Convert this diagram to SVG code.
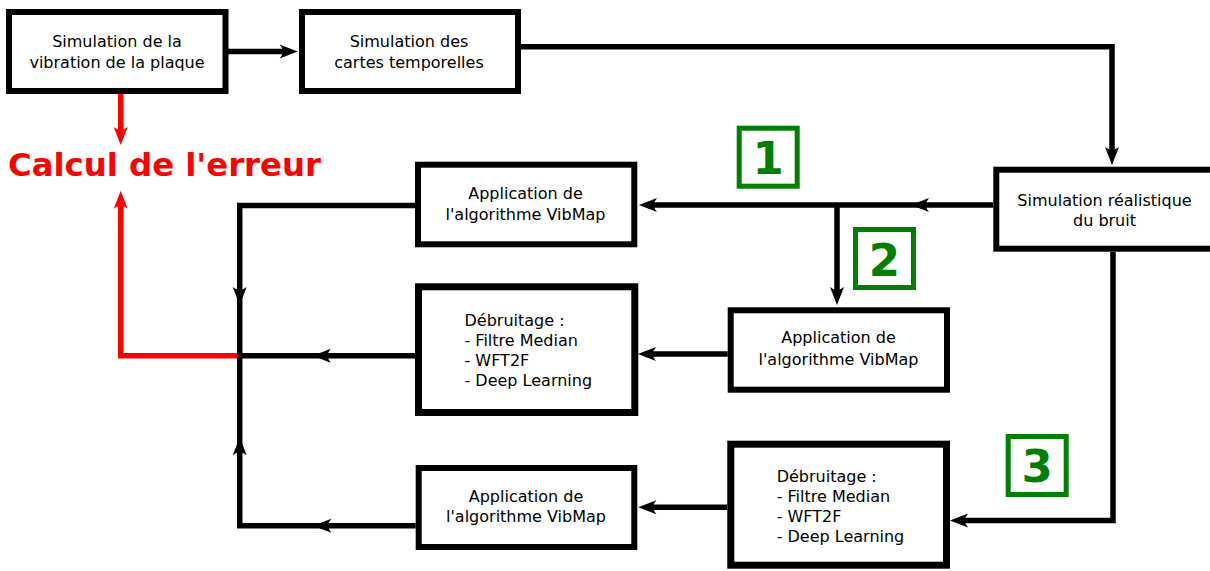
<svg xmlns="http://www.w3.org/2000/svg" width="1210" height="571" viewBox="0 0 1210 571">
<style>
.box{fill:#fff;stroke:#000;stroke-width:6}
.thick{stroke-width:7}
.t{font-family:"DejaVu Sans",Verdana,sans-serif;font-size:16px;fill:#000}
.c{text-anchor:middle}
.g{fill:none;stroke:#008000;stroke-width:5}
.gt{font-family:"DejaVu Sans",sans-serif;font-weight:bold;font-size:45px;fill:#008000;text-anchor:middle}
.ln{fill:none;stroke:#000;stroke-width:5.5;stroke-linejoin:miter}
.ar{marker-end:url(#ah)}
.red{fill:none;stroke:#f00;stroke-width:5.5;stroke-linejoin:miter;marker-end:url(#ahr)}
</style>
<defs>
<marker id="ah" markerUnits="userSpaceOnUse" orient="auto" overflow="visible" refX="0" refY="0" markerWidth="1" markerHeight="1">
<path d="M8,0 L-10,-7 Q-4,0 -10,7 Z" fill="#000"/>
</marker>
<marker id="ahr" markerUnits="userSpaceOnUse" orient="auto" overflow="visible" refX="0" refY="0" markerWidth="1" markerHeight="1">
<path d="M8,0 L-10,-7 Q-4,0 -10,7 Z" fill="#f00"/>
</marker>
</defs>
<rect width="1210" height="571" fill="#fff"/>
<g id="connectors">
<path class="ln ar" d="M228,51.5 H289.7"/>
<path class="ln ar" d="M518,46.7 H1112 V157"/>
<path class="ln ar" d="M993,205 H919"/>
<path class="ln ar" d="M919,205 H647"/>
<path class="ln ar" d="M837,205 V297"/>
<path class="ln ar" d="M727.7,354 H646"/>
<path class="ln ar" d="M415,355.7 H320.7"/>
<path class="ln" d="M320.7,355.7 H239.7"/>
<path class="ln ar" d="M415,205.5 H239.7 V297"/>
<path class="ln" d="M239.7,297 V355.7"/>
<path class="ln ar" d="M415.7,525.8 H321.3"/>
<path class="ln ar" d="M321.3,525.8 H239.7 V445.3"/>
<path class="ln" d="M239.7,445.3 V355.7"/>
<path class="ln ar" d="M727.3,507.3 H646.3"/>
<path class="ln ar" d="M1113,251.7 V520.5 H958"/>
<path class="red" d="M120.7,94 V137"/>
<path class="red" d="M237,355.7 H120.7 V198.7"/>
</g>
<g id="n-vibration">
<rect class="box" x="9" y="12" width="216.5" height="79"/>
<text class="t c" x="117" y="47">Simulation de la</text>
<text class="t c" x="117" y="68">vibration de la plaque</text>
</g>
<g id="n-cartes">
<rect class="box" x="302" y="12" width="216" height="79"/>
<text class="t c" x="409" y="47">Simulation des</text>
<text class="t c" x="409" y="68">cartes temporelles</text>
</g>
<g id="n-bruit">
<rect class="box" x="996.3" y="169.7" width="217" height="79"/>
<text class="t c" x="1104.5" y="205.5">Simulation réalistique</text>
<text class="t c" x="1104.5" y="225.5">du bruit</text>
</g>
<g id="n-vibmap1">
<rect class="box" x="418" y="164.7" width="216.3" height="79.6"/>
<text class="t c" x="525.5" y="199.3">Application de</text>
<text class="t c" x="525.5" y="220">l'algorithme VibMap</text>
</g>
<g id="n-debruitage1">
<rect class="box thick" x="418.5" y="286.8" width="216.3" height="125.7"/>
<text class="t" x="464.5" y="326">Débruitage :</text>
<text class="t" x="464.5" y="346">- Filtre Median</text>
<text class="t" x="464.5" y="366">- WFT2F</text>
<text class="t" x="464.5" y="386">- Deep Learning</text>
</g>
<g id="n-vibmap2">
<rect class="box" x="730.7" y="310.3" width="216.3" height="79.4"/>
<text class="t c" x="838.5" y="343.3">Application de</text>
<text class="t c" x="838.5" y="365">l'algorithme VibMap</text>
</g>
<g id="n-vibmap3">
<rect class="box" x="418.7" y="468" width="215.6" height="79"/>
<text class="t c" x="526" y="501.7">Application de</text>
<text class="t c" x="526" y="521.7">l'algorithme VibMap</text>
</g>
<g id="n-debruitage2">
<rect class="box thick" x="730.8" y="444.2" width="215.7" height="121"/>
<text class="t" x="776.7" y="482">Débruitage :</text>
<text class="t" x="776.7" y="502">- Filtre Median</text>
<text class="t" x="776.7" y="522">- WFT2F</text>
<text class="t" x="776.7" y="542">- Deep Learning</text>
</g>
<g id="n-erreur">
<text x="8" y="175.7" font-family="DejaVu Sans,sans-serif" font-weight="bold" font-size="32.3" fill="#f00">Calcul de l'erreur</text>
</g>
<g id="label-1">
<rect class="g" x="739.2" y="128.2" width="58" height="58"/>
<text class="gt" x="768.2" y="174">1</text>
</g>
<g id="label-2">
<rect class="g" x="855.5" y="229.5" width="58" height="58"/>
<text class="gt" x="884.5" y="275.5">2</text>
</g>
<g id="label-3">
<rect class="g" x="1008.2" y="436.5" width="58" height="58"/>
<text class="gt" x="1037.2" y="482">3</text>
</g>
</svg>
